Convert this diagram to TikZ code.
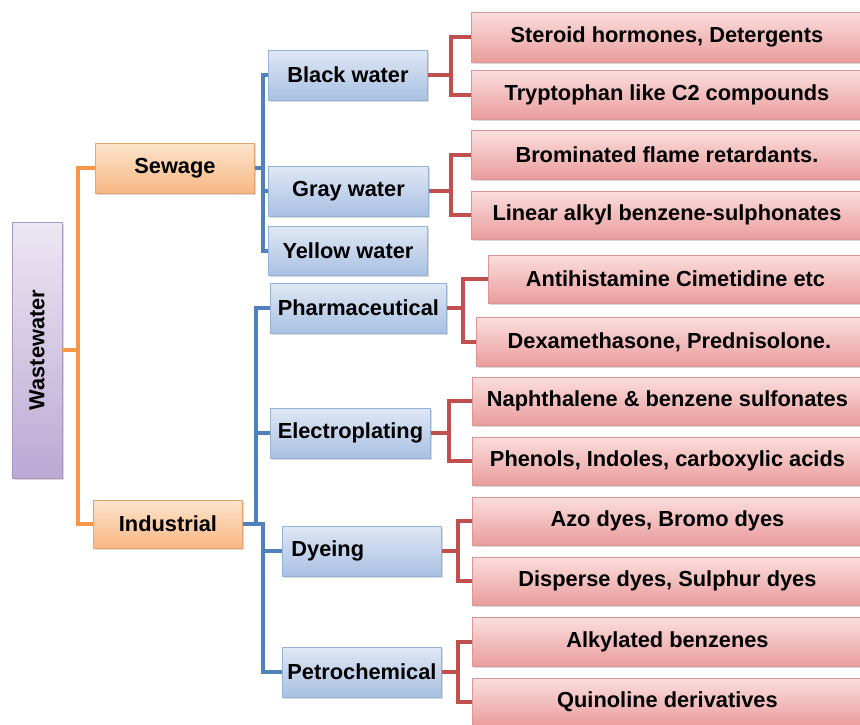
\documentclass[tikz,border=0pt]{standalone}
\usepackage{fontspec}
\setsansfont{Liberation Sans}
\usepackage{tikz}
\usetikzlibrary{shadows}
\usepackage{xcolor}

\definecolor{orgline}{HTML}{F79646}
\definecolor{blueline}{HTML}{4F81BD}
\definecolor{redline}{HTML}{C0504D}
\definecolor{orgtop}{HTML}{FCE4CC}
\definecolor{orgbot}{HTML}{F8B784}
\definecolor{orgedge}{HTML}{E7A56E}
\definecolor{bluetop}{HTML}{DFE8F5}
\definecolor{bluebot}{HTML}{A9C0E2}
\definecolor{blueedge}{HTML}{95B3D7}
\definecolor{redtop}{HTML}{FBDEDE}
\definecolor{redbot}{HTML}{EA9C9C}
\definecolor{rededge}{HTML}{D99694}
\definecolor{viotop}{HTML}{EDE7F3}
\definecolor{viobot}{HTML}{BBA9D4}
\definecolor{vioedge}{HTML}{A897C2}

\tikzset{
  box/.style={draw,line width=0.9pt,anchor=west,inner sep=3pt,
    font=\sffamily\bfseries\fontsize{21.8}{24}\selectfont,
    drop shadow={opacity=0.3,shadow xshift=1.5pt,shadow yshift=-1.5pt}},
  rootbox/.style={box,anchor=center,rotate=90,draw=vioedge,top color=viotop,bottom color=viobot},
  grpbox/.style={box,draw=orgedge,top color=orgtop,bottom color=orgbot},
  subbox/.style={box,draw=blueedge,top color=bluetop,bottom color=bluebot},
  leafbox/.style={box,draw=rededge,top color=redtop,bottom color=redbot},
  oline/.style={orgline,line width=3.2pt},
  bline/.style={blueline,line width=3.2pt},
  rline/.style={redline,line width=3.2pt}
}

\begin{document}
\begin{tikzpicture}[x=1pt,y=-1pt]
\useasboundingbox (0,0) rectangle (860,724);
% level 0 and 1
\node[rootbox,minimum width=256,minimum height=50] (ww) at (37,350) {Wastewater};
\node[grpbox,minimum width=159,minimum height=50] (sew) at (95,168) {Sewage};
\node[grpbox,minimum width=149,minimum height=48] (ind) at (93,524) {Industrial};
% level 2
\node[subbox,minimum width=159,minimum height=50] (blk) at (268,75) {Black water};
\node[subbox,minimum width=160,minimum height=50] (gry) at (268,191) {Gray water};
\node[subbox,minimum width=159,minimum height=49] (yel) at (268,251) {Yellow water};
\node[subbox,minimum width=176,minimum height=50] (pha) at (270,308) {Pharmaceutical};
\node[subbox,minimum width=160,minimum height=50] (ele) at (270,433) {Electroplating};
\node[subbox,minimum height=50,text width=141,inner xsep=9pt,align=left] (dye) at (282,551) {Dyeing};
\node[subbox,minimum width=159,minimum height=50] (pet) at (282,672) {Petrochemical};
% level 3
\node[leafbox,minimum width=391,minimum height=50] (ste) at (471,37) {Steroid hormones, Detergents};
\node[leafbox,minimum width=391,minimum height=49] (try) at (471,95) {Tryptophan like C2 compounds};
\node[leafbox,minimum width=391,minimum height=49] (bro) at (471,155) {Brominated flame retardants.};
\node[leafbox,minimum width=391,minimum height=48] (lin) at (471,215) {Linear alkyl benzene-sulphonates};
\node[leafbox,minimum width=374,minimum height=48] (ant) at (488,279) {Antihistamine Cimetidine etc};
\node[leafbox,minimum width=386,minimum height=49] (dex) at (476,342) {Dexamethasone, Prednisolone.};
\node[leafbox,minimum width=390,minimum height=48] (nap) at (472,401) {Naphthalene \& benzene sulfonates};
\node[leafbox,minimum width=390,minimum height=48] (phe) at (472,461) {Phenols, Indoles, carboxylic acids};
\node[leafbox,minimum width=390,minimum height=48] (azo) at (472,521) {Azo dyes, Bromo dyes};
\node[leafbox,minimum width=390,minimum height=48] (dis) at (472,581) {Disperse dyes, Sulphur dyes};
\node[leafbox,minimum width=390,minimum height=49] (alk) at (472,642) {Alkylated benzenes};
\node[leafbox,minimum width=390,minimum height=48] (qui) at (472,702) {Quinoline derivatives};
% orange links
\draw[oline] (sew.west) -- ++(-17,0) |- (ww.south);
\draw[oline] (ind.west) -- ++(-15,0) |- (ww.south);
% blue links
\draw[bline] (sew.east) -- ++(8,0) |- (blk.west);
\draw[bline] (sew.east) -- ++(8,0) |- (gry.west);
\draw[bline] (sew.east) -- ++(8,0) |- (yel.west);
\draw[bline] (ind.east) -- ++(13,0) |- (pha.west);
\draw[bline] (ind.east) -- ++(13,0) |- (ele.west);
\draw[bline] (ind.east) -- ++(20,0) |- (dye.west);
\draw[bline] (ind.east) -- ++(20,0) |- (pet.west);
% red links
\draw[rline] (blk.east) -- ++(23,0) |- (ste.west);
\draw[rline] (blk.east) -- ++(23,0) |- (try.west);
\draw[rline] (gry.east) -- ++(22,0) |- (bro.west);
\draw[rline] (gry.east) -- ++(22,0) |- (lin.west);
\draw[rline] (pha.east) -- ++(16,0) |- (ant.west);
\draw[rline] (pha.east) -- ++(16,0) |- (dex.west);
\draw[rline] (ele.east) -- ++(18,0) |- (nap.west);
\draw[rline] (ele.east) -- ++(18,0) |- (phe.west);
\draw[rline] (dye.east) -- ++(16,0) |- (azo.west);
\draw[rline] (dye.east) -- ++(16,0) |- (dis.west);
\draw[rline] (pet.east) -- ++(16,0) |- (alk.west);
\draw[rline] (pet.east) -- ++(16,0) |- (qui.west);
\end{tikzpicture}
\end{document}
